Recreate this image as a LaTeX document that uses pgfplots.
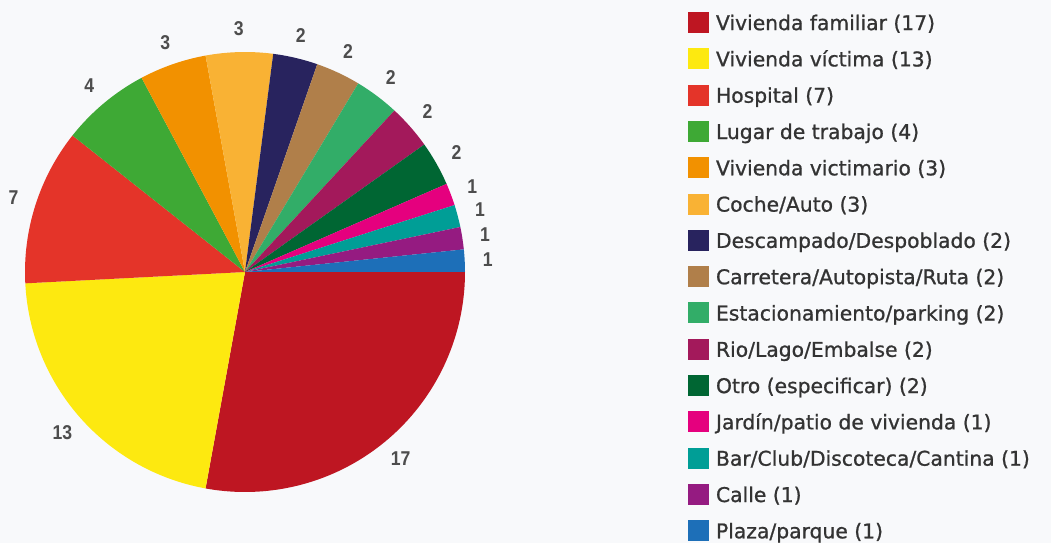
\documentclass[border=0pt]{standalone}
\usepackage{pgfplots}
\usepackage{pgfplotstable}
\pgfplotsset{compat=1.18}
\usepackage{fontspec}
\setmainfont{DejaVu Sans}
\newfontfamily\legfont[FakeBold=0.9]{DejaVu Sans}
\newfontfamily\labfont[FakeStretch=0.88]{Liberation Sans}
\definecolor{bg}{HTML}{F8F9FB}
\definecolor{textgray}{HTML}{333333}
\definecolor{labgray}{HTML}{4D4D4D}
\definecolor{c1}{HTML}{BE1622}
\definecolor{c2}{HTML}{FDE910}
\definecolor{c3}{HTML}{E43429}
\definecolor{c4}{HTML}{3EA935}
\definecolor{c5}{HTML}{F29100}
\definecolor{c6}{HTML}{F9B234}
\definecolor{c7}{HTML}{28235E}
\definecolor{c8}{HTML}{B07F4A}
\definecolor{c9}{HTML}{32AD68}
\definecolor{c10}{HTML}{A3195B}
\definecolor{c11}{HTML}{006633}
\definecolor{c12}{HTML}{E5007E}
\definecolor{c13}{HTML}{009E96}
\definecolor{c14}{HTML}{951B81}
\definecolor{c15}{HTML}{1D6FB8}
\pgfplotstableread[col sep=comma]{
label,value,color
Vivienda familiar,17,c1
Vivienda víctima,13,c2
Hospital,7,c3
Lugar de trabajo,4,c4
Vivienda victimario,3,c5
Coche/Auto,3,c6
Descampado/Despoblado,2,c7
Carretera/Autopista/Ruta,2,c8
Estacionamiento/parking,2,c9
Rio/Lago/Embalse,2,c10
Otro (especificar),2,c11
Jardín/patio de vivienda,1,c12
Bar/Club/Discoteca/Cantina,1,c13
Calle,1,c14
Plaza/parque,1,c15
}\piedata
\tikzset{pielabel/.style={font=\labfont\bfseries\fontsize{20bp}{20bp}\selectfont, text=labgray, inner sep=0pt}}
\begin{document}
\begin{tikzpicture}
\fill[bg] (0,0) rectangle (1051bp,543bp);
\useasboundingbox (0,0) rectangle (1051bp,543bp);
\begin{axis}[
  at={(0,0)}, anchor=south west,
  x=1bp, y=1bp, scale only axis,
  xmin=-245, xmax=806, ymin=-271, ymax=272,
  hide axis, clip=false,
  legend style={at={(axis cs:443,260)}, anchor=north west, draw=none, fill=none,
    inner sep=0pt, outer sep=0pt,
    font=\legfont\fontsize{20.3bp}{24bp}\selectfont, text=textgray,
    row sep=14.2bp,
    nodes={inner sep=0pt, text height=15bp, text depth=4bp},
    /tikz/every odd column/.append style={column sep=7bp}},
  legend cell align=left,
  legend image code/.code={\fill[#1, draw=none] (0bp,-8.4bp) rectangle (21bp,12.6bp);},
]
\pgfplotstablegetrowsof{\piedata}
\pgfmathtruncatemacro\lastrow{\pgfplotsretval-1}
\gdef\total{0}
\pgfplotsforeachungrouped \i in {0,...,\lastrow}{%
  \pgfplotstablegetelem{\i}{value}\of\piedata
  \pgfmathparse{\total+\pgfplotsretval}\xdef\total{\pgfmathresult}%
}
\gdef\cum{0}
\pgfplotsforeachungrouped \i in {0,...,\lastrow}{%
  \pgfplotstablegetelem{\i}{value}\of\piedata \let\val\pgfplotsretval
  \pgfplotstablegetelem{\i}{color}\of\piedata \let\col\pgfplotsretval
  \pgfplotstablegetelem{\i}{label}\of\piedata \let\lab\pgfplotsretval
  \pgfmathsetmacro\sa{-\cum/\total*360}%
  \pgfmathsetmacro\sb{-(\cum+\val)/\total*360}%
  \pgfmathsetmacro\ma{(\sa+\sb)/2}%
  \pgfmathsetmacro\sx{220*cos(\sa)}%
  \pgfmathsetmacro\sy{220*sin(\sa)}%
  \pgfmathsetmacro\lx{243*cos(\ma)}%
  \pgfmathsetmacro\ly{243*sin(\ma)}%
  \edef\temp{%
    \noexpand\fill[\col] (axis cs:0,0) -- (axis cs:\sx,\sy) arc[start angle=\sa, end angle=\sb, radius=220bp] -- cycle;
    \noexpand\node[pielabel] at (axis cs:\lx,\ly) {\val};
    \noexpand\addlegendimage{fill=\col}
    \noexpand\addlegendentry{\lab\space(\val)}
  }\temp
  \pgfmathparse{\cum+\val}\xdef\cum{\pgfmathresult}%
}
\end{axis}
\end{tikzpicture}
\end{document}
